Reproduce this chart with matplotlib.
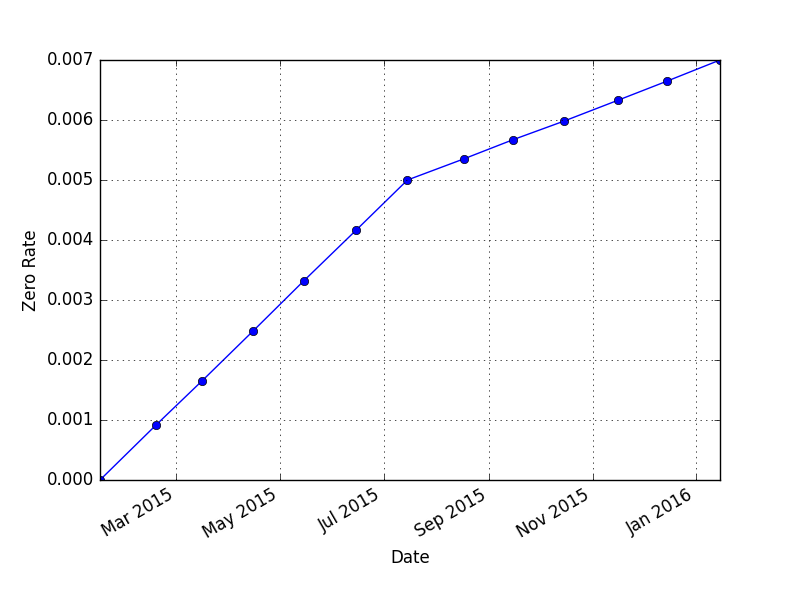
import datetime as dt

import matplotlib
matplotlib.use('Agg')
import matplotlib.pyplot as plt

plt.style.use('classic')

dates = [dt.date(2015, 1, 15), dt.date(2015, 2, 17), dt.date(2015, 3, 16),
         dt.date(2015, 4, 15), dt.date(2015, 5, 15), dt.date(2015, 6, 15),
         dt.date(2015, 7, 15), dt.date(2015, 8, 17), dt.date(2015, 9, 15),
         dt.date(2015, 10, 15), dt.date(2015, 11, 16), dt.date(2015, 12, 15),
         dt.date(2016, 1, 15)]
zero_rates = [0.0, 0.000917, 0.00165, 0.00248, 0.00332, 0.00417, 0.0050,
              0.00535, 0.00567, 0.00598, 0.00633, 0.00665, 0.0070]

fig, ax = plt.subplots(figsize=(8, 6))
fig.patch.set_facecolor('white')
ax.plot(dates, zero_rates, 'bo-')
ax.set_xlim(dates[0], dates[-1])
ax.set_ylim(0, 0.007)
ax.set_xlabel('Date')
ax.set_ylabel('Zero Rate')
ax.grid(True)
fig.autofmt_xdate()

fig.savefig('out.png', dpi=100, facecolor='white')
